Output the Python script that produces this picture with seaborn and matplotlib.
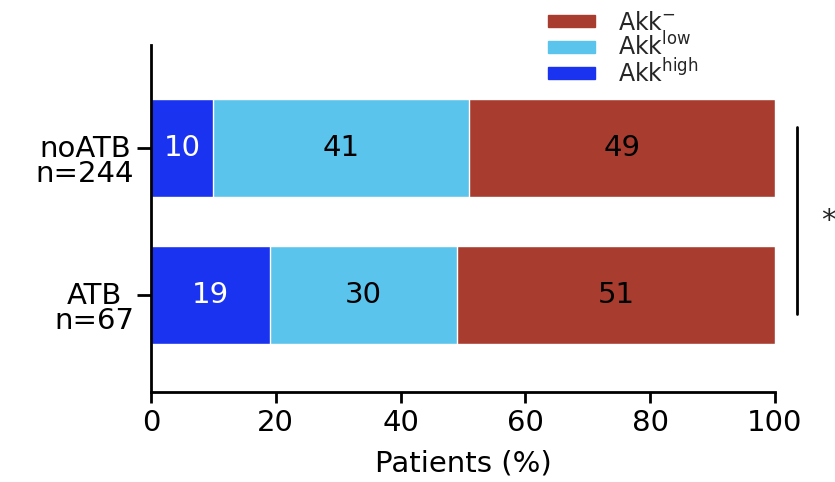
import numpy as np
import pandas as pd
import matplotlib
matplotlib.use("Agg")
import matplotlib.pyplot as plt
import matplotlib.transforms as mtransforms
import seaborn as sns
from matplotlib.patches import Patch

groups = ["noATB\nn=244", "ATB\nn=67"]
akk_high = [10, 19]
akk_low = [41, 30]
akk_neg = [49, 51]
categories = ["Akk$^{-}$", "Akk$^{\\mathrm{low}}$", "Akk$^{\\mathrm{high}}$"]
colors = {"neg": "#A83D2F", "low": "#5BC4EC", "high": "#1A33F0"}

sns.set_style("ticks")
plt.rcParams["font.family"] = ["DejaVu Sans"]
plt.rcParams["mathtext.fontset"] = "dejavusans"

df = pd.DataFrame({"group": groups, "high": akk_high, "low": akk_low, "neg": akk_neg})
df["cum_high"] = df["high"]
df["cum_low"] = df["high"] + df["low"]
df["cum_neg"] = df["high"] + df["low"] + df["neg"]

fig = plt.figure(figsize=(8.35, 4.82), dpi=100)
ax = fig.add_axes([151 / 835, 1 - 392 / 482, (775 - 151) / 835, (392 - 45) / 482])

# stacked horizontal bars: draw cumulative totals from widest to narrowest
for col, key in [("cum_neg", "neg"), ("cum_low", "low"), ("cum_high", "high")]:
    sns.barplot(data=df, x=col, y="group", orient="h", color=colors[key],
                width=0.667, saturation=1, ax=ax, zorder=2)

# segment labels
fs = 21
for i in range(len(groups)):
    starts = [0, df["cum_high"][i], df["cum_low"][i]]
    vals = [akk_high[i], akk_low[i], akk_neg[i]]
    tcols = ["white", "black", "black"]
    for s, v, c in zip(starts, vals, tcols):
        ax.text(s + v / 2, i, f"{v}", ha="center", va="center", fontsize=fs, color=c, zorder=3)

ax.set_xlim(0, 100)
ax.set_ylim(1.66, -0.70)
ax.set_xticks([0, 20, 40, 60, 80, 100])
ax.tick_params(axis="x", labelsize=fs, width=2, length=8, color="black", pad=4,
               labelcolor="black")
ax.tick_params(axis="y", labelsize=fs, width=2, length=10, color="black", pad=2,
               labelcolor="black")
# group names sit level with the tick, sample sizes underneath
shift = mtransforms.ScaledTranslation(0, -0.12, fig.dpi_scale_trans)
for lbl in ax.get_yticklabels():
    lbl.set_linespacing(0.85)
    lbl.set_multialignment("center")
    lbl.set_transform(lbl.get_transform() + shift)
ax.set_xlabel("Patients (%)", fontsize=fs, labelpad=9, color="black")
ax.set_ylabel("")
sns.despine(ax=ax)
for sp in ["left", "bottom"]:
    ax.spines[sp].set_linewidth(2)
    ax.spines[sp].set_color("black")

# significance bracket
ax.plot([103.5, 103.5], [-0.14, 1.13], color="black", lw=2, clip_on=False)
ax.text(108.6, 0.50, "*", ha="center", va="center", fontsize=fs, clip_on=False)

handles = [Patch(color=colors["neg"]), Patch(color=colors["low"]), Patch(color=colors["high"])]
fig.legend(handles, categories, loc="upper left", bbox_to_anchor=(531 / 835, 1 + 6 / 482),
           frameon=False, fontsize=17, handlelength=2.0, handleheight=0.42,
           labelspacing=-0.1, handletextpad=1.0, borderpad=0.2)

fig.savefig("out.png", dpi=100)
